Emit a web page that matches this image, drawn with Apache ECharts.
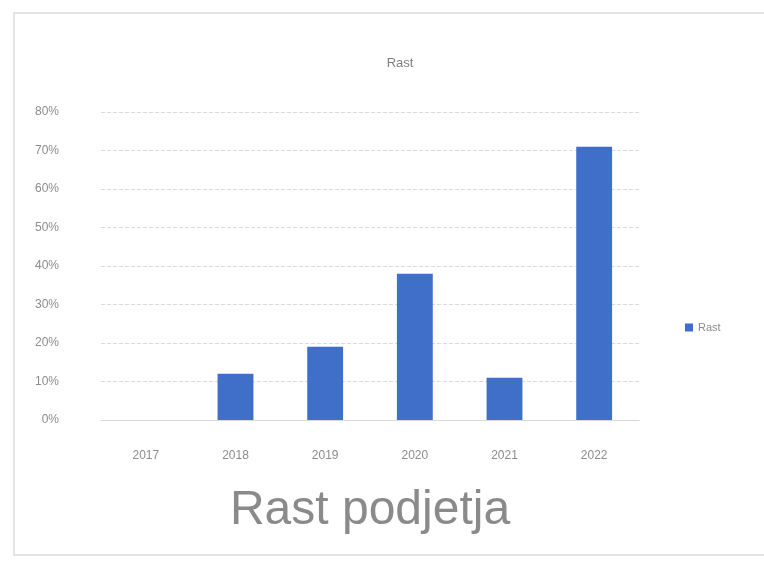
<!DOCTYPE html>
<html>
<head>
<meta charset="utf-8">
<script src="https://cdn.jsdelivr.net/npm/echarts@6/dist/echarts.min.js"></script>
<style>
html,body{margin:0;padding:0;background:#fff;}
#c{width:764px;height:569px;}
</style>
</head>
<body>
<div id="c"></div>
<script>
var categories = ['2017', '2018', '2019', '2020', '2021', '2022'];
var growthValues = [0, 12, 19, 38, 11, 71];
var yTickValues = [0, 10, 20, 30, 40, 50, 60, 70, 80];
var seriesName = 'Rast';
var chartTitle = 'Rast';
var axisTitle = 'Rast podjetja';

var chart = echarts.init(document.getElementById('c'));
chart.setOption({
  backgroundColor: '#ffffff',
  animation: false,
  title: {
    text: chartTitle,
    left: 395,
    top: 52,
    textAlign: 'center',
    textStyle: { fontFamily: 'Liberation Sans', fontSize: 13, fontWeight: 'normal', color: '#7f7f7f' }
  },
  legend: {
    orient: 'vertical',
    left: 680,
    top: 317,
    itemWidth: 8,
    itemHeight: 8,
    icon: 'rect',
    textStyle: { fontFamily: 'Liberation Sans', fontSize: 11, color: '#8c8c8c' },
    data: [seriesName]
  },
  graphic: [{
    type: 'rect',
    shape: { x: 14, y: 13, width: 760, height: 542 },
    style: { fill: 'none', stroke: '#dcdcdc', lineWidth: 1.5 },
    silent: true
  }],
  grid: { left: 101, right: 125, top: 112, bottom: 149 },
  xAxis: {
    type: 'category',
    data: categories,
    name: axisTitle,
    nameLocation: 'middle',
    nameGap: 67,
    nameTextStyle: { fontFamily: 'Liberation Sans', fontSize: 48, color: '#8a8a8a' },
    axisLine: { show: true, lineStyle: { color: '#d9d9d9' } },
    axisTick: { show: false },
    axisLabel: { margin: 30, fontFamily: 'Liberation Sans', fontSize: 12, color: '#8c8c8c' }
  },
  yAxis: {
    type: 'value',
    min: yTickValues[0],
    max: yTickValues[yTickValues.length - 1],
    interval: 10,
    axisLine: { show: false },
    axisTick: { show: false },
    splitLine: { lineStyle: { color: '#dadada', type: 'dashed' } },
    axisLabel: {
      margin: 42,
      fontFamily: 'Liberation Sans',
      fontSize: 12,
      color: '#8c8c8c',
      formatter: function (v) { return v + '%'; }
    }
  },
  series: [{
    name: seriesName,
    type: 'bar',
    data: growthValues,
    barWidth: '40%',
    itemStyle: { color: '#3f6fc8' }
  }]
});
</script>
</body>
</html>
